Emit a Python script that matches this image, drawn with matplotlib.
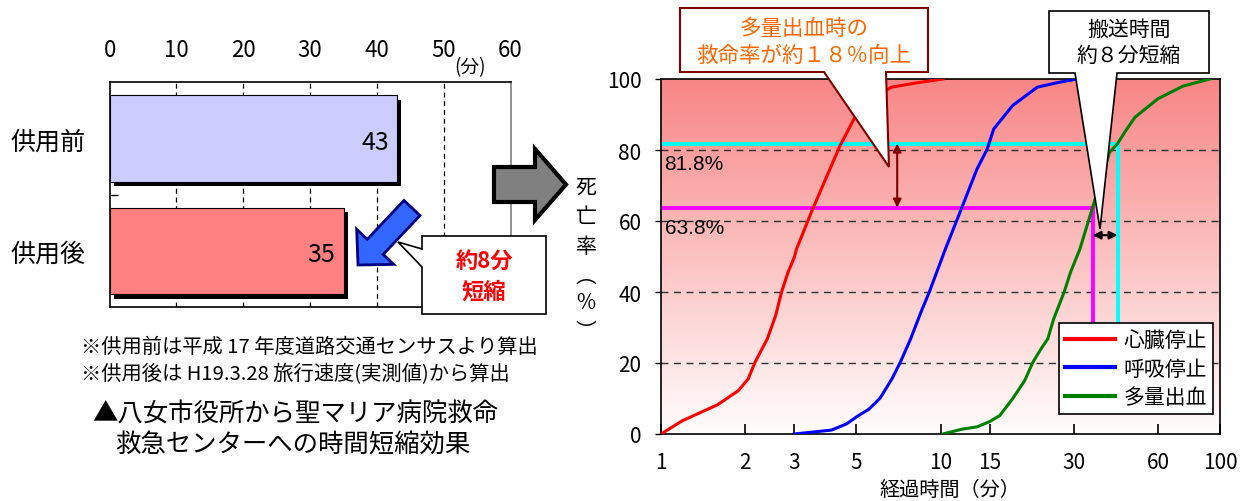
import matplotlib
matplotlib.use('Agg')
import matplotlib.pyplot as plt
import matplotlib.patches as mpatches
from matplotlib.transforms import Affine2D, offset_copy
from matplotlib.lines import Line2D
from matplotlib.ticker import NullLocator
import numpy as np

plt.rcParams['font.family'] = ['Noto Sans CJK JP', 'DejaVu Sans']

# ---- 所要時間（分） ----
periods = ['供用前', '供用後']
travel_min = [43, 35]
bar_colors = ['#ccccff', '#ff8080']
bar_ticks = [0, 10, 20, 30, 40, 50, 60]

# ---- 経過時間と死亡率（%） ----
cardiac_t = [1.0, 1.19, 1.59, 1.89, 2.05, 2.17, 2.40, 2.57, 2.70, 2.85, 3.0,
             3.05, 3.49, 4.37, 5.0, 5.63, 6.68, 8.2, 10.2]
cardiac_p = [0, 3.7, 8.2, 12.2, 15.5, 20.2, 26.8, 33.3, 40, 45.6, 49.8,
             52, 63.4, 81.2, 90, 94.4, 97.7, 98.9, 100]
resp_t = [3.0, 4.07, 4.6, 5.09, 5.55, 6.08, 6.7, 7.18, 7.82, 8.51, 9.12,
          10.4, 11.8, 13.5, 14.7, 15.5, 18.1, 22.2, 26.3, 30.7]
resp_p = [0, 1.1, 2.8, 5.2, 7, 10.1, 15.5, 20.2, 26.8, 34.3, 40,
          52, 62.9, 74.6, 80.3, 85.9, 92.5, 97.7, 99, 100]
bleed_t = [10.2, 12.0, 13.5, 15.0, 16.3, 18.1, 20.0, 21.4, 22.9, 24.2, 25.4,
           27.7, 29.2, 31.5, 35.0, 40.3, 43.0, 45.6, 49.6, 59.9, 73.7, 92.0]
bleed_p = [0, 1.4, 2, 3.5, 5.2, 9.9, 15, 20.2, 24, 26.8, 32.4,
           40, 45.6, 52, 63.8, 79.4, 81.8, 85, 89.2, 94.4, 98, 100]
curve_names = ['心臓停止', '呼吸停止', '多量出血']
curve_colors = ['#ff0000', '#0000ff', '#008000']

# 多量出血の死亡率（供用前・供用後）
mortality = [81.8, 63.8]
mark_colors = ['#00ffff', '#ff00ff']

x_ticks = [1, 2, 3, 5, 10, 15, 30, 60, 100]
y_ticks = [0, 20, 40, 60, 80, 100]

W, H = 1248, 502
fig = plt.figure(figsize=(W / 100, H / 100), dpi=100)
# pixel coordinates measured from the top-left corner
px = Affine2D().scale(1 / W, -1 / H).translate(0, 1) + fig.transFigure


def ftext(x, y, s, **kw):
    kw.setdefault('ha', 'center')
    kw.setdefault('va', 'center')
    return fig.text(x, y, s, transform=px, **kw)


# ================= 左：所要時間の棒グラフ =================
ax1 = fig.add_axes([109.6 / W, 1 - 308 / H, 401 / W, 224.7 / H])
ypos = np.arange(len(periods))
shadow = offset_copy(ax1.transData, fig=fig, x=4, y=-4.5, units='dots')
ax1.barh(ypos, travel_min, height=0.77, color='black', transform=shadow, zorder=2)
ax1.barh(ypos, travel_min, height=0.77, color=bar_colors,
         edgecolor='black', linewidth=0.8, zorder=3)
for i, v in enumerate(travel_min):
    ax1.text(v - 1.2, i + 0.03, str(v), ha='right', va='center', fontsize=18, zorder=4)
for v in bar_ticks[1:-1]:
    ax1.axvline(v, color='black', lw=0.9, ls=(0, (4, 3)), zorder=1)
ax1.set_xlim(0, 60)
ax1.set_ylim(1.5, -0.5)
ax1.xaxis.tick_top()
ax1.set_xticks(bar_ticks)
ax1.tick_params(axis='x', length=0, pad=15.5, labelsize=16)
ax1.set_yticks(ypos, periods)
ax1.tick_params(axis='y', which='major', length=0, pad=17, labelsize=18)
ax1.set_yticks([0.5], minor=True)
ax1.tick_params(axis='y', which='minor', direction='in', length=6, width=1)
for s in ['left', 'top', 'bottom']:
    ax1.spines[s].set_color('black')
    ax1.spines[s].set_linewidth(1.2)
ax1.spines['right'].set_color('#808080')
ax1.spines['right'].set_linewidth(1.2)
ftext(470, 68, '(分)', fontsize=13.5)

# 短縮を示す青矢印と吹き出し
fig.add_artist(mpatches.FancyArrow(412, 209, -54, 57, width=22, head_width=51,
                                   head_length=25, length_includes_head=True,
                                   fc='#3366ff', ec='#000080', lw=2,
                                   transform=px, zorder=5))
fig.add_artist(mpatches.Polygon([(422, 237), (546, 237), (546, 315), (422, 315),
                                 (422, 268), (398, 243), (422, 250)],
                                closed=True, fc='white', ec='black', lw=1.2,
                                transform=px, zorder=5))
ftext(484, 262, '約8分', fontsize=16, color='#ff0000', fontweight='bold', zorder=6)
ftext(484, 292, '短縮', fontsize=16, color='#ff0000', fontweight='bold', zorder=6)

# 灰色の矢印
fig.add_artist(mpatches.FancyArrow(494, 185.5, 72, 0, width=35, head_width=71,
                                   head_length=31, length_includes_head=True,
                                   fc='#808080', ec='black', lw=3,
                                   transform=px, zorder=5))

# 注記とタイトル
ftext(81, 347, '※供用前は平成 17 年度道路交通センサスより算出', fontsize=14.6, ha='left')
ftext(81, 375, '※供用後は H19.3.28 旅行速度(実測値)から算出', fontsize=14.6, ha='left')
ftext(92, 415, '▲八女市役所から聖マリア病院救命', fontsize=18.3, ha='left')
ftext(115, 446, '救急センターへの時間短縮効果', fontsize=18.3, ha='left')

# ================= 右：死亡率曲線 =================
rect = [661 / W, 1 - 435 / H, 559 / W, 355 / H]
bg = fig.add_axes(rect, zorder=0)
grad = np.linspace(0, 1, 256)[:, None, None]
top_c = np.array([248, 134, 134]) / 255
bot_c = np.array([255, 253, 253]) / 255
img = top_c * (1 - grad) + bot_c * grad
bg.imshow(np.repeat(img, 4, axis=1), extent=[0, 1, 0, 1], aspect='auto')
bg.axis('off')

ax2 = fig.add_axes(rect, zorder=1)
ax2.patch.set_alpha(0)
ax2.set_xscale('log')
for v in y_ticks[1:-1]:
    ax2.axhline(v, color='#303030', lw=1, ls=(0, (5, 4)), zorder=1)
for t, p, c in zip([cardiac_t, resp_t, bleed_t], [cardiac_p, resp_p, bleed_p], curve_colors):
    ax2.plot(t, p, color=c, lw=2.2, zorder=3)

for m, t, c in zip(mortality, travel_min, mark_colors):
    ax2.plot([1, t, t], [m, m, 31], color=c, lw=2.8, zorder=2, solid_joinstyle='miter')
    ax2.text(1.03, m - 3, f'{m}%', ha='left', va='top', fontsize=15,
             family=['Liberation Sans'], zorder=4)

ax2.annotate('', xy=(7, mortality[0]), xytext=(7, mortality[1]),
             arrowprops=dict(arrowstyle='<|-|>', color='#800000', lw=1.5,
                             shrinkA=0, shrinkB=0, mutation_scale=12), zorder=4)
ax2.annotate('', xy=(travel_min[1], 56), xytext=(travel_min[0], 56),
             arrowprops=dict(arrowstyle='<|-|>', color='black', lw=1.5,
                             shrinkA=0, shrinkB=0, mutation_scale=12), zorder=4)

ax2.set_xlim(1, 100)
ax2.set_ylim(0, 100)
ax2.set_xticks(x_ticks, [str(t) for t in x_ticks])
ax2.xaxis.set_minor_locator(NullLocator())
ax2.tick_params(axis='x', direction='in', length=7, width=1.2, pad=12, labelsize=15)
ax2.set_yticks(y_ticks)
ax2.tick_params(axis='y', direction='out', length=4, width=1, pad=10, labelsize=15)
for s in ax2.spines.values():
    s.set_color('black')
    s.set_linewidth(1.2)

handles = [Line2D([], [], color=c, lw=3) for c in curve_colors]
leg = ax2.legend(handles, curve_names, loc='lower right', bbox_to_anchor=(0.9875, 0.056),
                 borderaxespad=0, fancybox=False, framealpha=1, edgecolor='black',
                 fontsize=15, handlelength=2.4, handletextpad=0.4,
                 labelspacing=0.3, borderpad=0.3)
leg.get_frame().set_linewidth(1.2)
leg.set_zorder(5)

ftext(950, 490, '経過時間（分）', fontsize=14.5)
for ch, y in zip(['死', '亡', '率', '︵', '%', '︶'], [188, 217, 247, 277, 303, 332]):
    ftext(586, y, ch, fontsize=15)

# 吹き出し
fig.add_artist(mpatches.Polygon([(680, 9), (928, 9), (928, 73), (886, 73),
                                 (889, 168), (824, 73), (680, 73)],
                                closed=True, fc='white', ec='#7f0000', lw=1.5,
                                transform=px, zorder=5))
ftext(804, 29, '多量出血時の', fontsize=15.5, color='#ff6600', zorder=6)
ftext(804, 56, '救命率が約１８％向上', fontsize=15.5, color='#ff6600', zorder=6)

fig.add_artist(mpatches.Polygon([(1049, 12), (1209, 12), (1209, 74), (1117, 74),
                                 (1100, 230), (1075, 74), (1049, 74)],
                                closed=True, fc='white', ec='black', lw=1.2,
                                transform=px, zorder=5))
ftext(1129, 30, '搬送時間', fontsize=15, zorder=6)
ftext(1129, 56, '約８分短縮', fontsize=15, zorder=6)

fig.savefig('out.png', dpi=100)
